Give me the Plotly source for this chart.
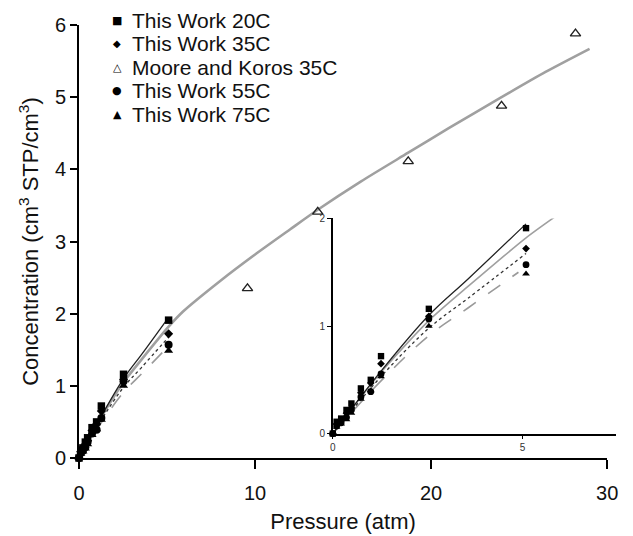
import plotly.graph_objects as go

# ---------------- data ----------------
pressure = [0, 0.1, 0.22, 0.36, 0.49, 0.74, 1.0, 1.27, 2.53, 5.09]
conc_20C = [0, 0.11, 0.14, 0.22, 0.28, 0.42, 0.50, 0.72, 1.16, 1.91]
conc_35C = [0, 0.09, 0.12, 0.19, 0.24, 0.38, 0.47, 0.65, 1.09, 1.72]
conc_55C = [0, 0.07, 0.10, 0.15, 0.22, 0.34, 0.39, 0.555, 1.065, 1.57]
conc_75C = [0, 0.06, 0.09, 0.13, 0.19, 0.32, 0.40, 0.53, 1.00, 1.485]

moore_p = [9.57, 13.56, 18.7, 24.0, 28.2]
moore_c = [2.35, 3.41, 4.11, 4.88, 5.88]

model_p = [0, 1.27, 2.53, 3.57, 5.09, 5.91, 8, 10, 12, 13.56, 16, 18.7, 21, 24, 26.5, 29]
model_c = [0, 0.57, 1.05, 1.37, 1.82, 2.03, 2.45, 2.82, 3.17, 3.44, 3.83, 4.23, 4.57, 5.0, 5.35, 5.67]

fit20_p = [0, 1.27, 2.53, 3.57, 5.09]
fit20_c = [0, 0.58, 1.10, 1.44, 1.95]
fit35_p = [0, 1.27, 2.53, 3.57, 5.09]
fit35_c = [0, 0.53, 0.98, 1.26, 1.675]
fit75_p = [0, 1.27, 2.53, 3.57, 4.89]
fit75_c = [0, 0.49, 0.91, 1.17, 1.50]

legend_labels = ["This Work 20C", "This Work 35C", "Moore and Koros 35C",
                 "This Work 55C", "This Work 75C"]
legend_symbols = ["\u25A0", "\u25C6", "\u25B3", "\u25CF", "\u25B2"]

FONT = "Liberation Sans, Arial, sans-serif"

fig = go.Figure()

def add_set(xa, ya, inset):
    ms = 0.85 if inset else 1.0
    if inset:
        mp = [p for p in model_p if p <= 5.91]
        mc = model_c[:len(mp)]
        gw = 1.6
    else:
        mp, mc = model_p, model_c
        gw = 2.6
    fig.add_trace(go.Scatter(x=mp, y=mc, mode="lines",
                             line=dict(color="#a0a0a0", width=gw, shape="spline", smoothing=0.7),
                             xaxis=xa, yaxis=ya, showlegend=False, hoverinfo="skip"))
    fig.add_trace(go.Scatter(x=fit75_p, y=fit75_c, mode="lines",
                             line=dict(color="#9a9a9a", width=1.6, dash="longdash", shape="spline"),
                             xaxis=xa, yaxis=ya, showlegend=False))
    fig.add_trace(go.Scatter(x=fit35_p, y=fit35_c, mode="lines",
                             line=dict(color="#333333", width=1.3, dash="dot", shape="spline"),
                             xaxis=xa, yaxis=ya, showlegend=False))
    fig.add_trace(go.Scatter(x=fit20_p, y=fit20_c, mode="lines",
                             line=dict(color="#222222", width=1.3, shape="spline"),
                             xaxis=xa, yaxis=ya, showlegend=False))
    for vals, sym, size in [(conc_75C, "triangle-up", 8), (conc_55C, "circle", 8),
                            (conc_35C, "diamond", 7), (conc_20C, "square", 7.5)]:
        fig.add_trace(go.Scatter(x=pressure, y=vals, mode="markers",
                                 marker=dict(symbol=sym, size=size * ms, color="black"),
                                 xaxis=xa, yaxis=ya, showlegend=False, cliponaxis=False))
    if not inset:
        fig.add_trace(go.Scatter(x=moore_p, y=moore_c, mode="markers",
                                 marker=dict(symbol="triangle-up-open", size=9, color="#222",
                                             line=dict(width=1.4)),
                                 xaxis=xa, yaxis=ya, showlegend=False, cliponaxis=False))

add_set("x", "y", False)
add_set("x2", "y2", True)

# plot area in page pixels (page has an 8px body margin)
P_LEFT, P_RIGHT, P_TOP, P_BOT = 79.0, 627.0, 22.0, 460.0
W_PLOT = P_RIGHT - P_LEFT
H_PLOT = P_BOT - P_TOP

def px(xp):
    return (xp - P_LEFT) / W_PLOT

def py(yp):
    return (P_BOT - yp) / H_PLOT

# manual legend
row_y = [17, 40.8, 64.6, 88.4, 112.2]
sym_sizes = [11, 10, 11, 11, 11]
for lab, sym, ry, ss in zip(legend_labels, legend_symbols, row_y, sym_sizes):
    fig.add_annotation(x=px(118), y=py(ry), xref="paper", yref="paper",
                       text=sym, showarrow=False, xanchor="center", yanchor="middle",
                       font=dict(family="DejaVu Sans", size=ss, color="black"))
    fig.add_annotation(x=px(131), y=py(ry), xref="paper", yref="paper",
                       text=lab, showarrow=False, xanchor="left", yanchor="middle",
                       font=dict(family=FONT, size=21, color="#111"))

axis_common = dict(showgrid=False, zeroline=False, showline=True, linecolor="black",
                   ticks="outside", tickcolor="black")

fig.update_layout(
    width=625, height=528,
    margin=dict(l=71, r=625 - (P_RIGHT - 8), t=P_TOP - 8, b=528 - (P_BOT - 8)),
    paper_bgcolor="white", plot_bgcolor="white",
    font=dict(family=FONT, color="#111"),
    xaxis=dict(domain=[0, 539 / W_PLOT], range=[0, 30], tickvals=[0, 10, 20, 30],
               linewidth=2, tickwidth=2, ticklen=9, ticklabelstandoff=7, tickfont=dict(size=20),
               title=dict(text="Pressure (atm)", font=dict(size=22), standoff=11),
               **axis_common),
    yaxis=dict(domain=[0, 1], range=[0, 6], tickvals=[0, 1, 2, 3, 4, 5, 6],
               linewidth=2, tickwidth=2, ticklen=7, tickfont=dict(size=20),
               title=dict(text="Concentration (cm<sup>3</sup> STP/cm<sup>3</sup>)", font=dict(size=22), standoff=10),
               **axis_common),
    xaxis2=dict(domain=[px(338), 1.0], range=[0, 7.46], tickvals=[0, 5],
                anchor="y2", linewidth=1.6, tickwidth=1.2, ticklen=4,
                tickfont=dict(size=10, color="#333"), **axis_common),
    yaxis2=dict(domain=[py(435.3), py(217.7)], range=[0, 2],
                tickvals=[0, 1, 2], anchor="x2", linewidth=1.6, tickwidth=1.2, ticklen=4,
                tickfont=dict(size=10, color="#333"), **axis_common),
)

fig.write_html("out.html")
